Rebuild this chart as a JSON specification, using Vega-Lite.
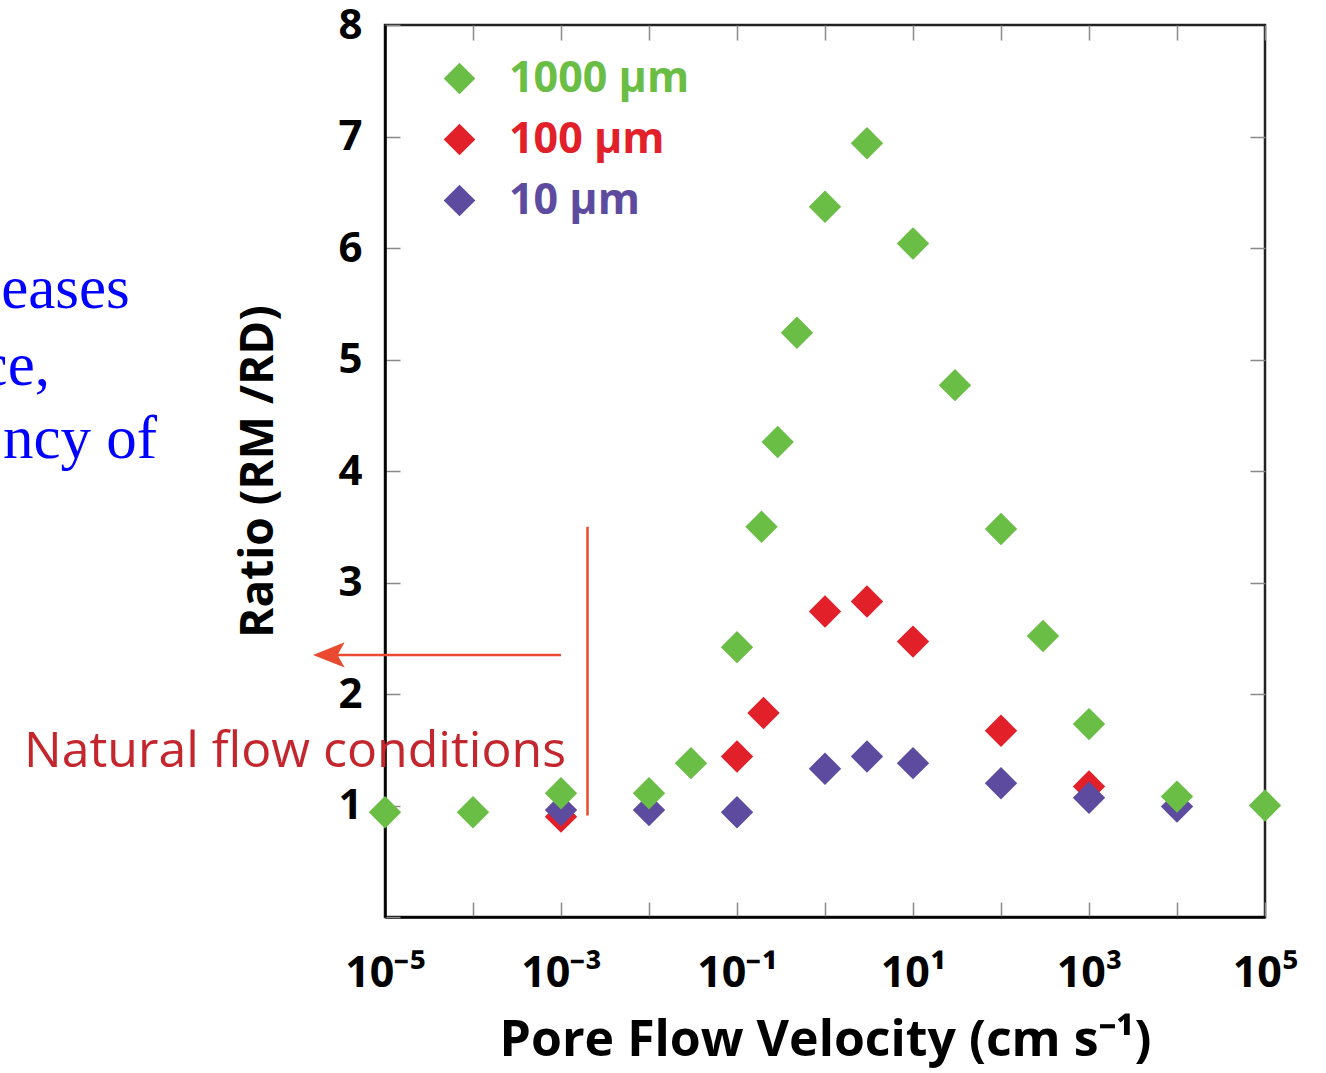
{
  "$schema": "https://vega.github.io/schema/vega-lite/v6.json",
  "width": 880,
  "height": 892,
  "autosize": "none",
  "padding": {"left": 385, "top": 25, "right": 61, "bottom": 156},
  "background": "white",
  "view": {"stroke": "#222222", "strokeWidth": 2.5},
  "config": {"font": "Open Sans", "axis": {"grid": false}},
  "datasets": {
    "points": [
      {"v": 0.001, "r": 0.90, "s": "100 μm"},
      {"v": 0.1, "r": 1.44, "s": "100 μm"},
      {"v": 0.2, "r": 1.83, "s": "100 μm"},
      {"v": 1, "r": 2.74, "s": "100 μm"},
      {"v": 3, "r": 2.83, "s": "100 μm"},
      {"v": 10, "r": 2.47, "s": "100 μm"},
      {"v": 100, "r": 1.67, "s": "100 μm"},
      {"v": 1000, "r": 1.17, "s": "100 μm"},
      {"v": 0.001, "r": 0.96, "s": "10 μm"},
      {"v": 0.01, "r": 0.96, "s": "10 μm"},
      {"v": 0.1, "r": 0.94, "s": "10 μm"},
      {"v": 1, "r": 1.33, "s": "10 μm"},
      {"v": 3, "r": 1.44, "s": "10 μm"},
      {"v": 10, "r": 1.38, "s": "10 μm"},
      {"v": 100, "r": 1.20, "s": "10 μm"},
      {"v": 1000, "r": 1.07, "s": "10 μm"},
      {"v": 10000, "r": 0.99, "s": "10 μm"},
      {"v": 0.00001, "r": 0.94, "s": "1000 μm"},
      {"v": 0.0001, "r": 0.94, "s": "1000 μm"},
      {"v": 0.001, "r": 1.11, "s": "1000 μm"},
      {"v": 0.01, "r": 1.11, "s": "1000 μm"},
      {"v": 0.03, "r": 1.38, "s": "1000 μm"},
      {"v": 0.1, "r": 2.42, "s": "1000 μm"},
      {"v": 0.19, "r": 3.50, "s": "1000 μm"},
      {"v": 0.29, "r": 4.26, "s": "1000 μm"},
      {"v": 0.48, "r": 5.24, "s": "1000 μm"},
      {"v": 1, "r": 6.37, "s": "1000 μm"},
      {"v": 3, "r": 6.94, "s": "1000 μm"},
      {"v": 10, "r": 6.04, "s": "1000 μm"},
      {"v": 30, "r": 4.77, "s": "1000 μm"},
      {"v": 100, "r": 3.48, "s": "1000 μm"},
      {"v": 300, "r": 2.52, "s": "1000 μm"},
      {"v": 1000, "r": 1.73, "s": "1000 μm"},
      {"v": 10000, "r": 1.08, "s": "1000 μm"},
      {"v": 100000, "r": 1.0, "s": "1000 μm"}
    ],
    "blue": [
      {"v": 1.26e-8, "r": 5.46, "t": "eases"},
      {"v": 1.56e-9, "r": 4.77, "t": "ce,"},
      {"v": 2.57e-8, "r": 4.12, "t": "ncy of"}
    ],
    "natural": [{"v": 9.5e-7, "r": 1.345, "t": "Natural flow conditions"}],
    "vline": [{"v": 0.002, "r": 0.91, "r2": 3.5}],
    "arrow": [{"v": 0.001, "v2": 2.3e-6, "r": 2.35}],
    "head": [{"v": 2.3e-6, "r": 2.35}]
  },
  "resolve": {"axis": {"x": "independent", "y": "independent"}},
  "layer": [
    {
      "data": {"name": "points"},
      "mark": {"type": "point", "opacity": 0},
      "encoding": {
        "x": {"field": "v", "type": "quantitative",
          "scale": {"type": "log", "domain": [0.00001, 100000], "nice": false},
          "axis": {"orient": "top", "values": [0.00001, 0.0001, 0.001, 0.01, 0.1, 1, 10, 100, 1000, 10000, 100000],
            "labels": false, "domain": false, "tickSize": -15, "tickColor": "#888888", "tickWidth": 1.5, "title": null}},
        "y": {"field": "r", "type": "quantitative",
          "scale": {"domain": [0, 8], "nice": false, "zero": false},
          "axis": {"orient": "right", "values": [1, 2, 3, 4, 5, 6, 7],
            "labels": false, "domain": false, "tickSize": -15, "tickColor": "#888888", "tickWidth": 1.5, "title": null}}
      }
    },
    {
      "data": {"name": "vline"},
      "mark": {"type": "rule", "color": "#ea4a2f", "strokeWidth": 2.5, "clip": false},
      "encoding": {
        "x": {"field": "v", "type": "quantitative", "scale": {"type": "log", "domain": [0.00001, 100000], "nice": false}, "axis": null},
        "y": {"field": "r", "type": "quantitative", "scale": {"domain": [0, 8], "nice": false, "zero": false}, "axis": null},
        "y2": {"field": "r2"}
      }
    },
    {
      "data": {"name": "arrow"},
      "mark": {"type": "rule", "color": "#ea4a2f", "strokeWidth": 2.5, "clip": false},
      "encoding": {
        "x": {"field": "v", "type": "quantitative", "scale": {"type": "log", "domain": [0.00001, 100000], "nice": false}, "axis": null},
        "x2": {"field": "v2"},
        "y": {"field": "r", "type": "quantitative", "scale": {"domain": [0, 8], "nice": false, "zero": false}, "axis": null}
      }
    },
    {
      "data": {"name": "head"},
      "mark": {"type": "point", "shape": "M-1,0L1,-0.8L0.55,0L1,0.8Z", "filled": true, "color": "#ea4a2f", "opacity": 1, "size": 1000, "clip": false},
      "encoding": {
        "x": {"field": "v", "type": "quantitative", "scale": {"type": "log", "domain": [0.00001, 100000], "nice": false}, "axis": null},
        "y": {"field": "r", "type": "quantitative", "scale": {"domain": [0, 8], "nice": false, "zero": false}, "axis": null}
      }
    },
    {
      "data": {"name": "blue"},
      "mark": {"type": "text", "font": "Liberation Serif", "fontSize": 61, "color": "#0000ff", "align": "right", "baseline": "alphabetic", "clip": false},
      "encoding": {
        "x": {"field": "v", "type": "quantitative", "scale": {"type": "log", "domain": [0.00001, 100000], "nice": false}, "axis": null},
        "y": {"field": "r", "type": "quantitative", "scale": {"domain": [0, 8], "nice": false, "zero": false}, "axis": null},
        "text": {"field": "t"}
      }
    },
    {
      "data": {"name": "natural"},
      "mark": {"type": "text", "font": "Open Sans", "fontSize": 50, "color": "#c4262e", "align": "center", "baseline": "alphabetic", "clip": false},
      "encoding": {
        "x": {"field": "v", "type": "quantitative", "scale": {"type": "log", "domain": [0.00001, 100000], "nice": false}, "axis": null},
        "y": {"field": "r", "type": "quantitative", "scale": {"domain": [0, 8], "nice": false, "zero": false}, "axis": null},
        "text": {"field": "t"}
      }
    },
    {
      "data": {"name": "points"},
      "mark": {"type": "point", "shape": "diamond", "filled": true, "opacity": 1, "size": 1050, "clip": false},
      "encoding": {
        "x": {"field": "v", "type": "quantitative",
          "scale": {"type": "log", "domain": [0.00001, 100000], "nice": false},
          "axis": {"orient": "bottom", "values": [0.00001, 0.0001, 0.001, 0.01, 0.1, 1, 10, 100, 1000, 10000, 100000],
            "labelExpr": "['10⁻⁵','','10⁻³','','10⁻¹','','10¹','','10³','','10⁵'][round(log(datum.value)/LN10)+5]",
            "tickSize": -15, "tickColor": "#888888", "tickWidth": 1.5,
            "domainColor": "#000000", "domainWidth": 2.5,
            "labelFontSize": 43, "labelFontWeight": "bold", "labelColor": "#000000", "labelPadding": 50, "labelFlush": false, "labelOverlap": false,
            "title": "Pore Flow Velocity (cm s⁻¹)", "titleFontSize": 50, "titleFontWeight": "bold", "titleColor": "#000000", "titlePadding": 20}},
        "y": {"field": "r", "type": "quantitative",
          "scale": {"domain": [0, 8], "nice": false, "zero": false},
          "axis": {"orient": "left", "values": [0, 1, 2, 3, 4, 5, 6, 7, 8],
            "labelExpr": "datum.value == 0 ? '' : datum.label",
            "tickSize": -15, "tickColor": "#888888", "tickWidth": 1.5,
            "domainColor": "#000000", "domainWidth": 2.5,
            "labelFontSize": 42, "labelFontWeight": "bold", "labelColor": "#000000", "labelPadding": 38, "labelFlush": false, "labelOverlap": false,
            "title": "Ratio (RM /RD)", "titleFontSize": 46, "titleFontWeight": "bold", "titleColor": "#000000", "titlePadding": 55}},
        "color": {"field": "s", "type": "nominal",
          "scale": {"domain": ["1000 μm", "100 μm", "10 μm"], "range": ["#6abd45", "#e2202a", "#5d4ba0"]},
          "legend": {"orient": "none", "legendX": 53, "legendY": 32, "title": null, "padding": 0,
            "symbolType": "diamond", "symbolSize": 1000, "symbolOpacity": 1, "symbolStrokeWidth": 0,
            "labelFontSize": 43, "labelFontWeight": "bold", "labelOffset": 28, "labelLimit": 0, "rowPadding": 17,
            "encode": {"labels": {"update": {"fill": {"scale": "color", "field": "value"}}}}}}
      }
    }
  ]
}
